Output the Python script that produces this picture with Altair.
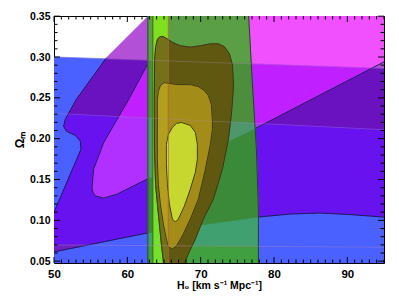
import altair as alt
import pandas as pd

# ---------------- data (H0 [km/s/Mpc], Omega_m) ----------------
BAND_H0 = [49.0, 96.0]
BAND_TOP = [0.3003, 0.2857]
BAND_MID = [0.2314, 0.2106]
BAND_LOW = [0.0700, 0.0670]

SN2_H0 = [65.05, 62.73, 57.14, 53.04, 51.54, 51.31, 51.68, 52.91, 53.59, 53.68, 50.18, 49.90,
          48.00, 48.00, 49.90, 56.32, 62.73, 69.96, 77.87, 82.23, 86.33, 90.42, 95.06, 97.50, 97.50, 65.05]
SN2_OM = [0.370, 0.349, 0.299, 0.248, 0.2235, 0.2154, 0.2093, 0.204, 0.197, 0.187, 0.1138, 0.1077,
          0.068, 0.0575, 0.0612, 0.0730, 0.0845, 0.0943, 0.1041, 0.1078, 0.1090, 0.1071, 0.1040, 0.101, 0.380, 0.380]

SN1_H0 = [62.73, 60.18, 58.59, 56.77, 55.40, 55.18, 55.30, 55.63, 56.77, 58.59, 62.69, 77.19, 95.06, 97.50, 97.50, 67.50]
SN1_OM = [0.2906, 0.2479, 0.2235, 0.1951, 0.1626, 0.1406, 0.1345, 0.130, 0.1272, 0.1321, 0.1504, 0.2113, 0.2943, 0.306, 0.380, 0.380]

G2_H0 = [62.80, 76.36, 77.02, 77.60, 77.87, 77.87, 62.80]
G2_OM = [0.380, 0.380, 0.2723, 0.1869, 0.1138, 0.020, 0.020]

G1_H0 = [63.48, 65.59]

Y3_H0 = [65.05, 64.91, 64.64, 64.23, 63.85, 63.70, 63.68, 63.72, 63.85, 64.10, 64.45, 64.90, 65.45, 66.28,
         67.23, 68.59, 69.96, 71.32, 72.41, 73.23, 73.92, 74.33, 74.46, 74.46, 74.19, 73.78, 72.96,
         71.73, 70.37, 69.28, 68.32, 67.91, 67.64]
Y3_OM = [0.035, 0.050, 0.071, 0.108, 0.144, 0.187, 0.248, 0.295, 0.312, 0.3215, 0.3250, 0.3250, 0.3220, 0.3174,
         0.3138, 0.3120, 0.3138, 0.3162, 0.3162, 0.3126, 0.3040, 0.2906, 0.2723, 0.2601, 0.2296, 0.1991, 0.1626,
         0.1260, 0.1016, 0.0772, 0.0589, 0.0500, 0.035]

Y2_H0 = [64.09, 64.23, 64.50, 65.05, 65.87, 66.96, 68.59, 69.69, 70.50, 71.05, 71.46, 71.60, 71.60, 71.32,
         70.64, 69.69, 68.59, 67.50, 66.69, 66.14, 65.59, 65.32, 64.91, 64.50, 64.23, 64.09, 64.09]
Y2_OM = [0.2479, 0.2577, 0.2650, 0.2687, 0.2674, 0.2662, 0.2662, 0.2638, 0.2589, 0.2528, 0.2418, 0.2235, 0.2113,
         0.1930, 0.1626, 0.1260, 0.1016, 0.0809, 0.0687, 0.0650, 0.0674, 0.0772, 0.0955, 0.1199, 0.1443, 0.1747, 0.2113]

Y1_H0 = [66.69, 67.37, 68.59, 69.28, 69.55, 69.55, 69.28, 68.59, 67.78, 66.96, 66.55, 66.14, 65.73, 65.46,
         65.32, 65.32, 65.59, 66.14]
Y1_OM = [0.2187, 0.2199, 0.2162, 0.2077, 0.1930, 0.1747, 0.1589, 0.1382, 0.1174, 0.1016, 0.0979, 0.1016, 0.1199,
         0.1443, 0.1687, 0.1930, 0.2052, 0.2138]

X_MAJOR = [50, 60, 70, 80, 90]
Y_MAJOR = [0.05, 0.10, 0.15, 0.20, 0.25, 0.30, 0.35]
X_MINOR = [v for v in range(50, 96) if v % 10 != 0]
Y_MINOR = [round(0.05 + 0.01 * i, 2) for i in range(31) if i % 5 != 0]

# ---------------- styling ----------------
FONT = "Liberation Sans"
W, H = 330, 247
xs = alt.Scale(domain=[50, 95], nice=False, zero=False)
ys = alt.Scale(domain=[0.0478, 0.3502], nice=False, zero=False)
xaxis = alt.Axis(values=X_MAJOR, title="H₀ [km s⁻¹ Mpc⁻¹]", ticks=False, tickSize=0, domain=False, grid=False,
                 labelFlush=False, labelOverlap=False, labelPadding=5, labelFont=FONT, labelFontSize=11.5,
                 labelFontWeight="bold", labelColor="black", titleFont=FONT, titleFontSize=10.5,
                 titleFontWeight="bold", titleColor="black", titleX=W / 2, titleY=17,
                 titleBaseline="top", titleAlign="center")
yaxis = alt.Axis(values=Y_MAJOR, format=".2f", title="Ωₘ", ticks=False, tickSize=0, domain=False, grid=False,
                 labelFlush=False, labelOverlap=False, labelPadding=4, labelFont=FONT, labelFontSize=10.5,
                 labelFontWeight="bold", labelColor="black", titleFont=FONT, titleFontSize=12,
                 titleFontWeight="bold", titleColor="black", titleX=-35, titleY=H / 2, titleAngle=270,
                 titleBaseline="middle", titleAlign="center")


def X(f):
    return alt.X(f, type="quantitative", scale=xs, axis=xaxis)


def Y(f):
    return alt.Y(f, type="quantitative", scale=ys, axis=yaxis)


def pts(hs, os):
    return list(zip(hs, os))


def clip(subject, clipper):
    def area(p):
        return sum(p[i][0] * p[(i + 1) % len(p)][1] - p[(i + 1) % len(p)][0] * p[i][1] for i in range(len(p)))
    if area(clipper) < 0:
        clipper = clipper[::-1]
    out = list(subject)
    n = len(clipper)
    for i in range(n):
        a, b = clipper[i], clipper[(i + 1) % n]
        inp, out = out, []
        if not inp:
            break

        def inside(p):
            return (b[0] - a[0]) * (p[1] - a[1]) - (b[1] - a[1]) * (p[0] - a[0]) >= 0

        def inter(p, q):
            x1, y1 = p; x2, y2 = q; x3, y3 = a; x4, y4 = b
            den = (x1 - x2) * (y3 - y4) - (y1 - y2) * (x3 - x4)
            t = ((x1 - x3) * (y3 - y4) - (y1 - y3) * (x3 - x4)) / den
            return (x1 + t * (x2 - x1), y1 + t * (y2 - y1))
        s = inp[-1]
        for e in inp:
            if inside(e):
                if not inside(s):
                    out.append(inter(s, e))
                out.append(e)
            elif inside(s):
                out.append(inter(s, e))
            s = e
    return out


layers = []


def poly(p, color):
    if len(p) < 3:
        return
    df = pd.DataFrame({"h": [q[0] for q in p], "o": [q[1] for q in p], "k": list(range(len(p)))})
    layers.append(alt.Chart(df).mark_line(interpolate="linear-closed", filled=True, fill=color, stroke=color,
                                          strokeWidth=0.6, opacity=1, clip=True)
                  .encode(x=X("h"), y=Y("o"), order=alt.Order("k:Q")))


def path(p, color, width=1.0, opacity=1.0, closed=False):
    df = pd.DataFrame({"h": [q[0] for q in p], "o": [q[1] for q in p], "k": list(range(len(p)))})
    layers.append(alt.Chart(df).mark_line(interpolate="linear-closed" if closed else "linear", stroke=color,
                                          strokeWidth=width, opacity=opacity, clip=True)
                  .encode(x=X("h"), y=Y("o"), order=alt.Order("k:Q")))


# region polygons
x0, x1 = BAND_H0
ABOVE = [(x0, BAND_TOP[0]), (x1, BAND_TOP[1]), (x1, 0.40), (x0, 0.40)]
UPPER = [(x0, BAND_MID[0]), (x1, BAND_MID[1]), (x1, BAND_TOP[1]), (x0, BAND_TOP[0])]
SIG1 = [(x0, BAND_LOW[0]), (x1, BAND_LOW[1]), (x1, BAND_MID[1]), (x0, BAND_MID[0])]
LOWER = [(x0, 0.02), (x1, 0.02), (x1, BAND_LOW[1]), (x0, BAND_LOW[0])]
BAND = [(x0, 0.02), (x1, 0.02), (x1, BAND_TOP[1]), (x0, BAND_TOP[0])]

SN2 = pts(SN2_H0, SN2_OM)
SN1 = pts(SN1_H0, SN1_OM)
G2 = pts(G2_H0, G2_OM)
G1 = [(G1_H0[0], 0.02), (G1_H0[1], 0.02), (G1_H0[1], 0.40), (G1_H0[0], 0.40)]
Y3 = pts(Y3_H0, Y3_OM)
Y2 = pts(Y2_H0, Y2_OM)
Y1 = pts(Y1_H0, Y1_OM)

# base band
poly(BAND, "#4a60ff")
# SN-like contours
poly(clip(SN2, ABOVE), "#b250d8")
poly(clip(SN2, UPPER), "#6a12c0")
poly(clip(SN2, SIG1), "#6812f0")
poly(clip(SN2, LOWER), "#7020c0")
poly(clip(SN1, ABOVE), "#f050ff")
poly(clip(SN1, UPPER), "#c020ff")
poly(clip(SN1, SIG1), "#b230ff")
path(SN2[2:24], "#1c1c5c", 1.0)
path(SN1[0:13], "#1c1c5c", 1.0)
# wide H0 band
poly(clip(G2, ABOVE), "#5a9e46")
poly(clip(G2, UPPER), "#4c8e3e")
poly(clip(G2, SIG1), "#40a070")
poly(clip(clip(SN2, G2), SIG1), "#3a8a3a")
poly(clip(clip(SN1, G2), SIG1), "#4e966c")
poly(clip(G2, LOWER), "#40a040")
# narrow H0 band
poly(clip(G1, ABOVE), "#80e020")
poly(clip(G1, BAND), "#74e22a")
# nested contours
poly(Y3, "#605810")
poly(clip(Y3, G1), "#747218")
poly(Y2, "#a48c18")
poly(clip(Y2, G1), "#b49e1e")
poly(Y1, "#c8d630")
poly(clip(Y1, G1), "#d4e23a")
# edges
path([(G2_H0[0], 0.02), (G2_H0[0], 0.40)], "#2a4a2a", 1.0)
path(G2[1:6], "#24402a", 1.0)
path([(G1_H0[0], 0.02), (G1_H0[0], 0.40)], "#3a5a20", 1.0)
for Yp in (Y3, Y2, Y1):
    path(Yp, "#3a3a16", 1.0, closed=True)
path([(G1_H0[1], 0.02), (G1_H0[1], 0.40)], "#b0603a", 1.0, 0.8)
for line, op in ((BAND_TOP, 0.3), (BAND_MID, 0.3), (BAND_LOW, 0.35)):
    path(list(zip(BAND_H0, line)), "#b48cb4", 1.0, op)


# inward ticks on all four sides
def xticks(vals, a, b):
    df = pd.DataFrame({"h": vals})
    layers.append(alt.Chart(df).mark_rule(color="black", strokeWidth=1)
                  .encode(x=X("h"), y=alt.value(a), y2=alt.value(b)))


def yticks(vals, a, b):
    df = pd.DataFrame({"o": vals})
    layers.append(alt.Chart(df).mark_rule(color="black", strokeWidth=1)
                  .encode(y=Y("o"), x=alt.value(a), x2=alt.value(b)))


xticks(X_MAJOR, H, H - 6); xticks(X_MINOR, H, H - 3.5)
xticks(X_MAJOR, 0, 6); xticks(X_MINOR, 0, 3.5)
yticks(Y_MAJOR, 0, 6); yticks(Y_MINOR, 0, 3.5)
yticks(Y_MAJOR, W, W - 6); yticks(Y_MINOR, W, W - 3.5)

chart = (alt.layer(*layers)
         .properties(width=W, height=H, padding={"left": 46, "top": 8, "right": 5, "bottom": 28},
                     autosize=alt.AutoSizeParams(type="none"), background="white")
         .configure_view(stroke="black", strokeWidth=1, fill="white"))

chart.save("out.html", embed_options={"renderer": "svg", "actions": False})
